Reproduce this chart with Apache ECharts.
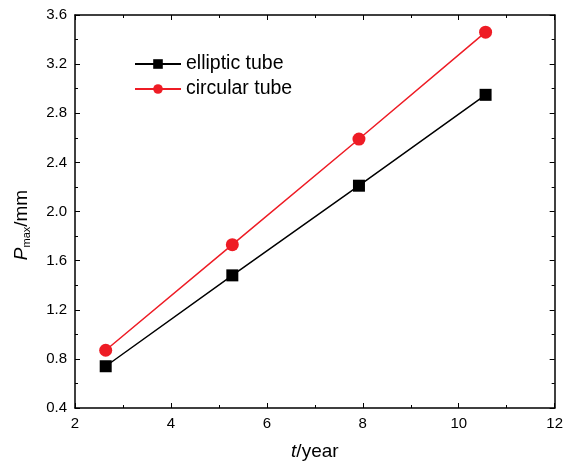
<!DOCTYPE html>
<html>
<head>
<meta charset="utf-8">
<script src="https://cdn.jsdelivr.net/npm/echarts@6/dist/echarts.min.js"></script>
<style>
  html, body { margin: 0; padding: 0; background: #fff; }
  #chart { width: 566px; height: 467px; }
</style>
</head>
<body>
<div id="chart"></div>
<script>
// Service time (years) and maximum pit depth P_max (mm)
const years = [2.64, 5.28, 7.92, 10.56];
const ellipticTube = [0.74, 1.48, 2.21, 2.95];
const circularTube = [0.87, 1.73, 2.59, 3.46];
const seriesNames = ['elliptic tube', 'circular tube'];

const FONT = '"Liberation Sans", Arial, sans-serif';

function pairs(xs, ys) {
  return xs.map((x, i) => [x, ys[i]]);
}

const tickStyle = { color: '#000', width: 1 };

function baseAxis(extra) {
  return Object.assign({
    axisLine: { show: true, onZero: false, lineStyle: { color: '#000', width: 1.5 } },
    axisTick: { show: true, inside: true, length: 5, lineStyle: tickStyle },
    minorTick: { show: true, splitNumber: 2, length: 3, lineStyle: tickStyle },
    splitLine: { show: false },
    minorSplitLine: { show: false }
  }, extra);
}

const chart = echarts.init(document.getElementById('chart'), null, { renderer: 'canvas' });

chart.setOption({
  backgroundColor: '#fff',
  animation: false,
  grid: { left: 75, top: 15, right: 9, bottom: 59, containLabel: false },
  legend: {
    left: 129,
    top: 49,
    orient: 'vertical',
    itemWidth: 46,
    itemHeight: 12,
    itemGap: 5,
    textStyle: { fontFamily: FONT, fontSize: 19.5, lineHeight: 20, color: '#000' },
    data: seriesNames
  },
  xAxis: [
    baseAxis({
      type: 'value', min: 2, max: 12, interval: 2, position: 'bottom',
      axisLabel: { color: '#000', fontFamily: FONT, fontSize: 15, margin: 8 },
      name: '{i|t}/year',
      nameLocation: 'middle',
      nameGap: 34,
      nameTextStyle: {
        color: '#000', fontFamily: FONT, fontSize: 19,
        rich: { i: { fontStyle: 'italic', fontFamily: FONT, fontSize: 19, color: '#000' } }
      }
    }),
    baseAxis({
      type: 'value', min: 2, max: 12, interval: 2, position: 'top',
      axisLabel: { show: false }
    })
  ],
  yAxis: [
    baseAxis({
      type: 'value', min: 0.4, max: 3.6, interval: 0.4, position: 'left',
      axisLabel: {
        color: '#000', fontFamily: FONT, fontSize: 15, margin: 8,
        formatter: v => v.toFixed(1)
      },
      name: '{i|P}{s|max}/mm',
      nameLocation: 'middle',
      nameGap: 43,
      nameRotate: 90,
      nameTextStyle: {
        color: '#000', fontFamily: FONT, fontSize: 19,
        padding: [0, 27, 0, 0],
        rich: {
          i: { fontStyle: 'italic', fontFamily: FONT, fontSize: 19, color: '#000' },
          s: { fontFamily: FONT, fontSize: 11, color: '#000', verticalAlign: 'bottom', padding: [9, 0, 0, 0] }
        }
      }
    }),
    baseAxis({
      type: 'value', min: 0.4, max: 3.6, interval: 0.4, position: 'right',
      axisLabel: { show: false }
    })
  ],
  series: [
    {
      name: seriesNames[0],
      type: 'line',
      data: pairs(years, ellipticTube),
      symbol: 'rect',
      symbolSize: 12,
      lineStyle: { color: '#000', width: 1.5 },
      itemStyle: { color: '#000' }
    },
    {
      name: seriesNames[1],
      type: 'line',
      data: pairs(years, circularTube),
      symbol: 'circle',
      symbolSize: 13,
      lineStyle: { color: '#ee1c25', width: 1.5 },
      itemStyle: { color: '#ee1c25' }
    }
  ]
});
</script>
</body>
</html>
